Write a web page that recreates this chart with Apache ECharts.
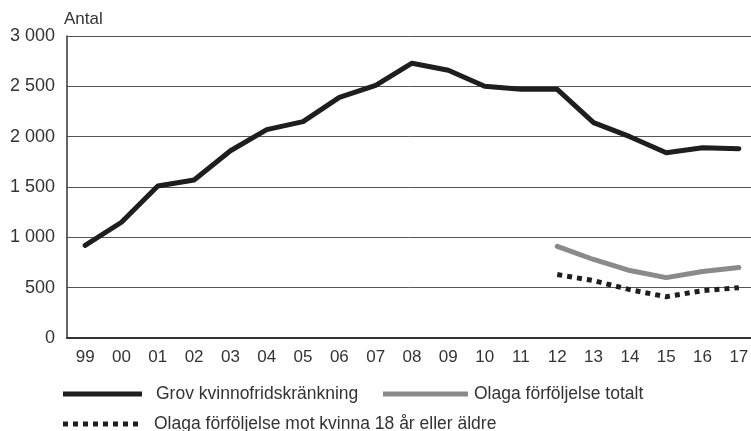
<!DOCTYPE html>
<html>
<head>
<meta charset="utf-8">
<script src="https://cdn.jsdelivr.net/npm/echarts@6/dist/echarts.min.js"></script>
<style>
  html, body { margin: 0; padding: 0; background: #fff; }
  #chart { width: 751px; height: 431px; }
</style>
</head>
<body>
<div id="chart"></div>
<script>
// år (2-siffrigt)
var years = ['99', '00', '01', '02', '03', '04', '05', '06', '07', '08', '09',
  '10', '11', '12', '13', '14', '15', '16', '17']
// Grov kvinnofridskränkning
var grovKvinnofrid = [920, 1150, 1510, 1570, 1860, 2070, 2150, 2390, 2510, 2730, 2660,
  2500, 2470, 2470, 2140, 2000, 1840, 1890, 1880]
// Olaga förföljelse totalt (från 2012)
var olagaTotalt = [null, null, null, null, null, null, null, null, null, null, null,
  null, null, 910, 780, 670, 600, 660, 700]
// Olaga förföljelse mot kvinna 18 år eller äldre
var olagaKvinna = [null, null, null, null, null, null, null, null, null, null, null,
  null, null, 630, 570, 480, 410, 470, 500]
var yTicks = [0, 500, 1000, 1500, 2000, 2500, 3000]

var font = 'Liberation Sans'
var dotIcon = 'path://M0,0h5v5h-5z M10,0h5v5h-5z M20,0h5v5h-5z M30,0h5v5h-5z M40,0h5v5h-5z M50,0h5v5h-5z M60,0h5v5h-5z M70,0h5v5h-5z'
var legendText = { fontSize: 17.5, color: '#333', fontFamily: font }

var chart = echarts.init(document.getElementById('chart'))

var option = {
  animation: false,
  textStyle: { fontFamily: font },
  grid: {
    left: 67,
    top: 36,
    width: 690,
    height: 302,
    containLabel: false,
    outerBoundsMode: 'none'
  },
  legend: [
    {
      data: [{ name: 'Grov kvinnofridskränkning', icon: 'rect' }],
      left: 63,
      top: 385,
      padding: 0,
      itemWidth: 79,
      itemHeight: 5,
      textStyle: Object.assign({ padding: [0, 0, 0, 9] }, legendText)
    },
    {
      data: [{ name: 'Olaga förföljelse totalt', icon: 'rect' }],
      left: 383,
      top: 385,
      padding: 0,
      itemWidth: 85,
      itemHeight: 5,
      textStyle: Object.assign({ padding: [0, 0, 0, 1] }, legendText)
    },
    {
      data: [{ name: 'Olaga förföljelse mot kvinna 18 år eller äldre', icon: dotIcon }],
      left: 63,
      top: 415,
      padding: 0,
      itemWidth: 79,
      itemHeight: 5,
      textStyle: Object.assign({ padding: [0, 0, 0, 9] }, legendText)
    }
  ],
  xAxis: {
    type: 'category',
    data: years,
    boundaryGap: true,
    axisLine: { lineStyle: { color: '#333', width: 2 } },
    axisTick: { alignWithLabel: true, inside: true, length: 7, lineStyle: { color: '#333', width: 1 } },
    axisLabel: { fontSize: 17, color: '#333', margin: 11, fontFamily: font },
    splitLine: { show: false }
  },
  yAxis: {
    type: 'value',
    min: 0,
    max: 3000,
    interval: 500,
    name: 'Antal',
    nameLocation: 'end',
    nameGap: 8,
    nameTextStyle: { fontSize: 17, color: '#333', align: 'left', verticalAlign: 'bottom', padding: [0, 0, 0, -3] },
    axisLine: { show: true, lineStyle: { color: '#333', width: 1.5 } },
    axisTick: { show: false },
    axisLabel: {
      fontSize: 18,
      color: '#333',
      margin: 12,
      fontFamily: font,
      formatter: function (v) {
        return yTicks.indexOf(v) >= 0 ? String(v).replace(/\B(?=(\d{3})+(?!\d))/g, ' ') : ''
      }
    },
    splitLine: { show: true, lineStyle: { color: '#555', width: 1 } }
  },
  series: [
    {
      name: 'Grov kvinnofridskränkning',
      type: 'line',
      data: grovKvinnofrid,
      symbol: 'none',
      lineStyle: { color: '#1e1e1e', width: 5, cap: 'round', join: 'round' },
      itemStyle: { color: '#1e1e1e' }
    },
    {
      name: 'Olaga förföljelse totalt',
      type: 'line',
      data: olagaTotalt,
      symbol: 'none',
      lineStyle: { color: '#8a8a8a', width: 5, cap: 'round', join: 'round' },
      itemStyle: { color: '#8a8a8a' }
    },
    {
      name: 'Olaga förföljelse mot kvinna 18 år eller äldre',
      type: 'line',
      data: olagaKvinna,
      symbol: 'none',
      lineStyle: { color: '#1e1e1e', width: 5, type: [5, 5], cap: 'butt' },
      itemStyle: { color: '#1e1e1e' }
    }
  ]
}
chart.setOption(option)
</script>
</body>
</html>
